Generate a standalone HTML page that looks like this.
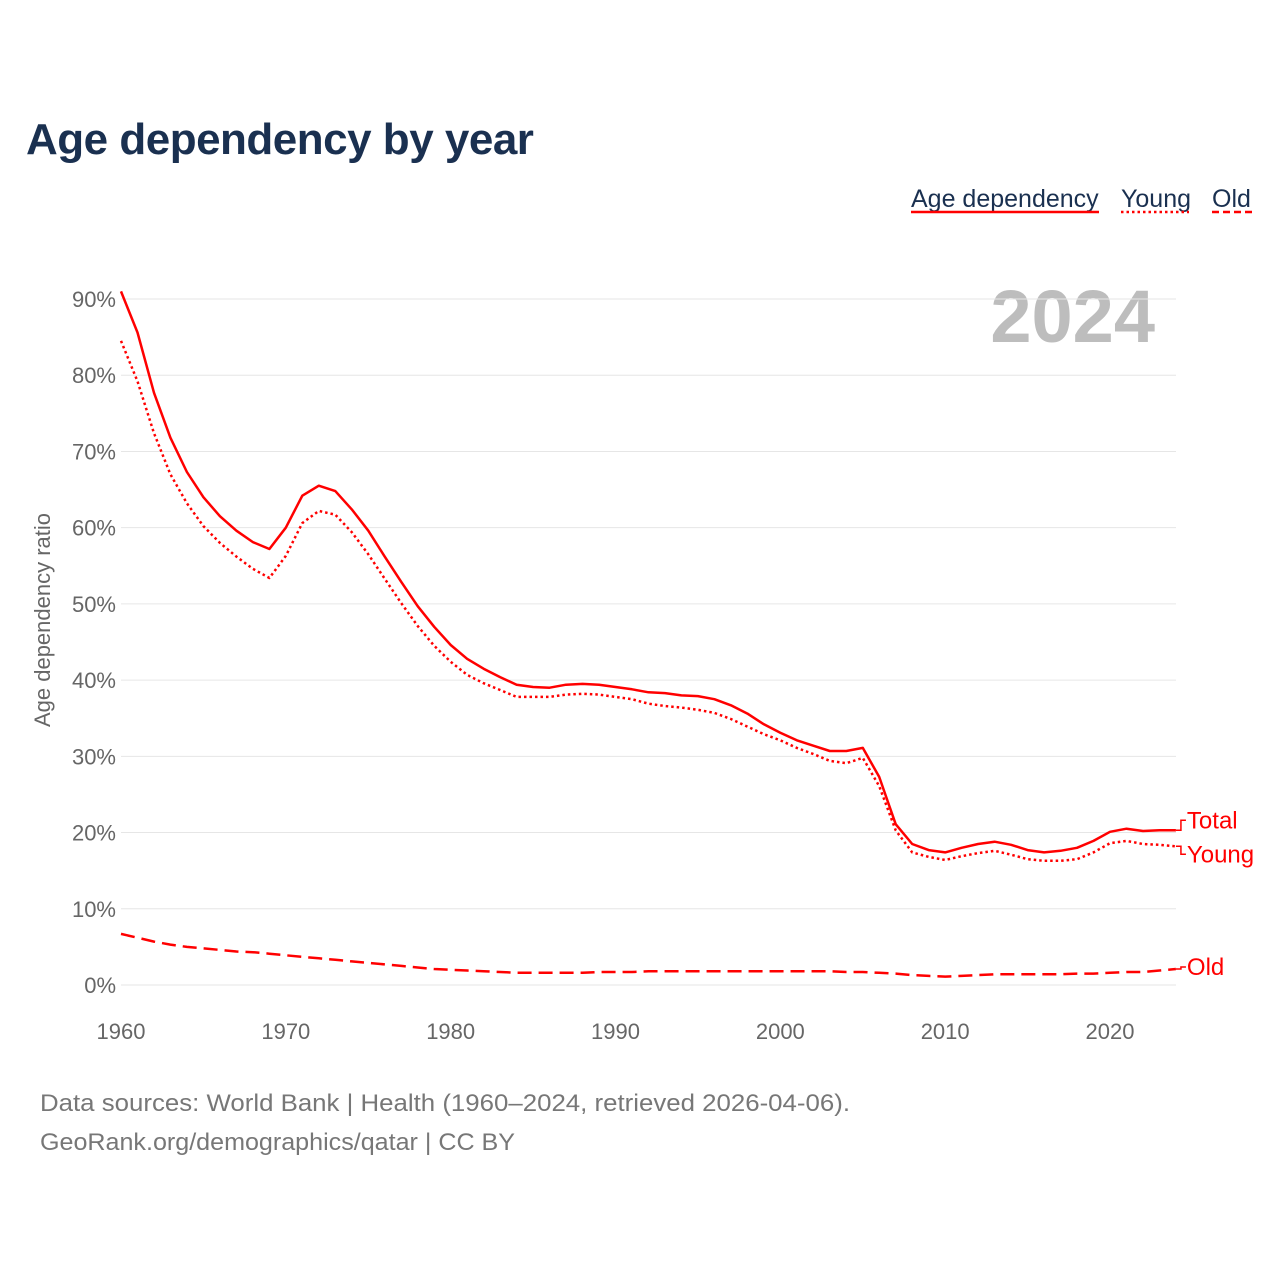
<!DOCTYPE html>
<html><head><meta charset="utf-8">
<style>
html,body{margin:0;padding:0;background:#fff;}
body{width:1280px;height:1280px;overflow:hidden;font-family:"Liberation Sans",sans-serif;}
</style></head>
<body>
<svg id="chart" width="1280" height="1280" xmlns="http://www.w3.org/2000/svg" font-family="Liberation Sans, sans-serif">
<text x="26" y="154" font-size="44" font-weight="bold" fill="#1a3050" letter-spacing="-0.5">Age dependency by year</text>
<g font-size="25" fill="#1a3050">
 <g><text x="911" y="207">Age dependency</text><line x1="911" y1="212" x2="1099" y2="212" stroke="#f00" stroke-width="2.5"/></g>
 <g><text x="1121" y="207">Young</text><line x1="1121" y1="212" x2="1189" y2="212" stroke="#f00" stroke-width="2.5" stroke-dasharray="2.5,3"/></g>
 <g><text x="1212" y="207">Old</text><line x1="1212" y1="212" x2="1253" y2="212" stroke="#f00" stroke-width="2.5" stroke-dasharray="7,4"/></g>
</g>
<text x="1155" y="342" font-size="74" font-weight="bold" fill="#bdbdbd" text-anchor="end">2024</text>
<text transform="translate(50,620) rotate(-90)" font-size="22" fill="#666" text-anchor="middle">Age dependency ratio</text>
<g id="grid"></g><g id="series"></g><g id="labels"></g>
<text x="40" y="1111" font-size="24" fill="#777" textLength="810" lengthAdjust="spacingAndGlyphs">Data sources: World Bank | Health (1960–2024, retrieved 2026-04-06).</text>
<text x="40" y="1150" font-size="24" fill="#777" textLength="475" lengthAdjust="spacingAndGlyphs">GeoRank.org/demographics/qatar | CC BY</text>
</svg>
<script>
const years=[];for(let y=1960;y<=2024;y++)years.push(y);
const totalVals=[91,85.6,77.7,71.8,67.3,64,61.5,59.6,58.1,57.2,60,64.2,65.5,64.8,62.4,59.6,56.2,52.9,49.7,47,44.6,42.8,41.5,40.4,39.4,39.1,39,39.4,39.5,39.4,39.1,38.8,38.4,38.3,38,37.9,37.5,36.7,35.6,34.2,33.1,32.1,31.4,30.7,30.7,31.1,27.3,21.1,18.5,17.7,17.4,18,18.5,18.8,18.4,17.7,17.4,17.6,18,18.9,20.1,20.5,20.2,20.3,20.3];
const youngVals=[84.5,79.2,72.4,67,63.2,60.2,58,56.2,54.6,53.4,56.3,60.6,62.2,61.7,59.4,56.5,53.3,50.1,47.1,44.5,42.4,40.7,39.6,38.7,37.8,37.8,37.8,38.1,38.2,38.1,37.8,37.5,36.9,36.6,36.4,36.1,35.7,34.9,33.9,32.9,32.1,31.1,30.3,29.4,29.1,29.8,26.1,20.3,17.4,16.8,16.4,16.9,17.3,17.6,17.1,16.5,16.3,16.3,16.5,17.4,18.6,18.9,18.5,18.4,18.2];
const oldVals=[6.7,6.2,5.7,5.3,5.0,4.8,4.6,4.4,4.3,4.1,3.9,3.7,3.5,3.3,3.1,2.9,2.7,2.5,2.3,2.1,2.0,1.9,1.8,1.7,1.6,1.6,1.6,1.6,1.6,1.7,1.7,1.7,1.8,1.8,1.8,1.8,1.8,1.8,1.8,1.8,1.8,1.8,1.8,1.8,1.7,1.7,1.6,1.5,1.3,1.2,1.1,1.2,1.3,1.4,1.4,1.4,1.4,1.4,1.5,1.5,1.6,1.7,1.7,1.9,2.1];
const yTicks=[0,10,20,30,40,50,60,70,80,90];
const xTicks=[1960,1970,1980,1990,2000,2010,2020];
const NS="http://www.w3.org/2000/svg";
const x=v=>121+(v-1960)*(1110-121)/60;
const y=v=>985-v*(985-299)/90;
function mk(t,a,p){const e=document.createElementNS(NS,t);for(const k in a)e.setAttribute(k,a[k]);p.appendChild(e);return e;}
const grid=document.getElementById('grid');
yTicks.forEach(t=>{
 const l=mk('line',{x1:121,x2:1176,y1:y(t),y2:y(t),stroke:'#e6e6e6','stroke-width':1},grid);
 
 
 const tx=mk('text',{x:116,y:y(t)+8,'font-size':22,fill:'#666','text-anchor':'end'},grid);
 tx.textContent=t+'%';
 
 
});
xTicks.forEach(t=>{
 const tx=mk('text',{x:x(t),y:1039,'font-size':22,fill:'#666','text-anchor':'middle'},grid);
 tx.textContent=t;
 
 
});
const ser=document.getElementById('series');
function line(vals,dash,name){
 const d=vals.map((v,i)=>(i?'L':'M')+x(years[i]).toFixed(1)+','+y(v).toFixed(1)).join('');
 const p=mk('path',{d:d,fill:'none',stroke:'#f00','stroke-width':2.5,'stroke-linejoin':'round'},ser);
 if(dash)p.setAttribute('stroke-dasharray',dash);
 
 
}
line(totalVals,null,'total-line');
line(youngVals,'2.5,3','young-line');
line(oldVals,'14,7','old-line');
const lab=document.getElementById('labels');
const n=years.length-1, ex=x(years[n]);
function endLabel(v,ly,txt,name){
 const p=mk('path',{d:`M${ex},${y(v)}H${ex+5}V${ly}H${ex+10}`,fill:'none',stroke:'#f00','stroke-width':1.5},lab);
 
 
 const t=mk('text',{x:ex+11,y:ly+8,'font-size':24,fill:'#f00'},lab);
 t.textContent=txt;
 
 
}
endLabel(totalVals[n],y(totalVals[n])-10,'Total','total-end-label');
endLabel(youngVals[n],y(youngVals[n])+8,'Young','young-end-label');
endLabel(oldVals[n],y(oldVals[n])-2,'Old','old-end-label');
</script>
</body></html>
